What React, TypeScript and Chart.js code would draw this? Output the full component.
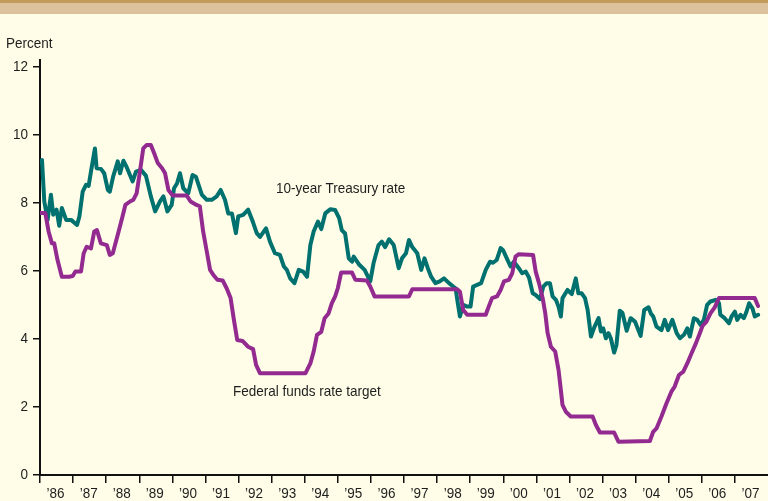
import { useEffect, useRef } from "react";
import { Chart, registerables } from "chart.js";

Chart.register(...registerables);

// 10-year Treasury rate (decimal year, percent)
const treasuryDates = [
  1986.0, 1986.06, 1986.13, 1986.23, 1986.33, 1986.4, 1986.5, 1986.58, 1986.66, 1986.79, 1986.94,
  1987.12, 1987.19, 1987.29, 1987.39, 1987.47, 1987.54, 1987.66, 1987.71, 1987.84, 1987.94,
  1988.05, 1988.11, 1988.21, 1988.35, 1988.42, 1988.52, 1988.62, 1988.8, 1988.9,
  1989.05, 1989.2, 1989.35, 1989.48, 1989.63, 1989.73, 1989.85, 1989.98,
  1990.05, 1990.14, 1990.23, 1990.33, 1990.48, 1990.61, 1990.71, 1990.89,
  1991.04, 1991.19, 1991.34, 1991.46, 1991.59, 1991.69, 1991.8, 1991.92, 1991.99,
  1992.14, 1992.29, 1992.43, 1992.55, 1992.65, 1992.83, 1992.95,
  1993.1, 1993.25, 1993.37, 1993.46, 1993.56, 1993.69, 1993.82, 1993.95,
  1994.07, 1994.17, 1994.27, 1994.4, 1994.5, 1994.62, 1994.77, 1994.92,
  1995.04, 1995.12, 1995.22, 1995.33, 1995.43, 1995.48, 1995.65, 1995.81, 1995.98,
  1996.08, 1996.23, 1996.33, 1996.43, 1996.55, 1996.69, 1996.84, 1996.94,
  1997.06, 1997.15, 1997.25, 1997.4, 1997.52, 1997.62, 1997.72, 1997.82, 1997.95,
  1998.08, 1998.21, 1998.36, 1998.49, 1998.56, 1998.61, 1998.69, 1998.79, 1998.91,
  1999.01, 1999.09, 1999.21, 1999.33, 1999.47, 1999.6, 1999.69, 1999.8, 1999.92,
  2000.0, 2000.12, 2000.22, 2000.32, 2000.47, 2000.57, 2000.68, 2000.78, 2000.89, 2000.98,
  2001.11, 2001.21, 2001.31, 2001.41, 2001.49, 2001.59, 2001.67, 2001.74, 2001.79, 2001.94,
  2002.07, 2002.19, 2002.27, 2002.37, 2002.47, 2002.55, 2002.65, 2002.75, 2002.88, 2002.95,
  2003.02, 2003.1, 2003.18, 2003.25, 2003.35, 2003.42, 2003.52, 2003.6, 2003.73, 2003.85, 2003.98,
  2004.15, 2004.26, 2004.39, 2004.46, 2004.53, 2004.63, 2004.78, 2004.88, 2004.98,
  2005.11, 2005.24, 2005.34, 2005.46, 2005.56, 2005.64, 2005.76, 2005.86, 2005.96,
  2006.06, 2006.16, 2006.26, 2006.42, 2006.52, 2006.56, 2006.69, 2006.82, 2006.9,
  2007.0, 2007.07, 2007.17, 2007.27, 2007.35, 2007.43, 2007.53, 2007.6, 2007.7,
];
const treasuryRates = [
  9.2, 9.26, 8.04, 7.5, 8.24, 7.65, 7.8, 7.33, 7.85, 7.5, 7.5,
  7.35, 7.6, 8.33, 8.53, 8.5, 8.92, 9.6, 9.02, 9.0, 8.87,
  8.38, 8.33, 8.77, 9.22, 8.87, 9.24, 9.05, 8.63, 8.92,
  8.97, 8.8, 8.19, 7.75, 8.05, 8.19, 7.75, 7.94,
  8.43, 8.57, 8.87, 8.43, 8.28, 8.82, 8.77, 8.24,
  8.09, 8.09, 8.19, 8.38, 8.09, 7.69, 7.69, 7.11, 7.6,
  7.65, 7.8, 7.45, 7.11, 7.0, 7.25, 6.86,
  6.52, 6.47, 6.13, 6.03, 5.78, 5.64, 6.03, 5.98,
  5.83, 6.76, 7.16, 7.45, 7.23, 7.69, 7.81, 7.79,
  7.55, 7.2, 7.1, 6.37, 6.27, 6.42, 6.18, 6.03, 5.69,
  6.23, 6.76, 6.86, 6.7, 6.93, 6.76, 6.08, 6.37,
  6.52, 6.91, 6.7, 6.52, 6.03, 6.37, 6.08, 5.83, 5.64,
  5.69, 5.78, 5.64, 5.54, 5.49, 5.15, 4.66, 5.0, 4.95,
  4.95, 5.54, 5.59, 5.64, 6.03, 6.27, 6.24, 6.32, 6.67,
  6.6, 6.34, 6.13, 6.27, 6.08, 5.93, 5.98, 5.8, 5.34, 5.29,
  5.17, 5.54, 5.64, 5.64, 5.25, 5.15, 4.95, 4.66, 5.2, 5.44,
  5.32, 5.78, 5.34, 5.34, 5.2, 4.85, 4.07, 4.34, 4.61, 4.22,
  4.31, 4.02, 4.17, 4.02, 3.6, 3.82, 4.83, 4.77, 4.24, 4.61, 4.51,
  4.09, 4.85, 4.93, 4.75, 4.66, 4.36, 4.26, 4.56, 4.26,
  4.56, 4.17, 4.02, 4.12, 4.31, 4.07, 4.61, 4.56, 4.41,
  4.56, 5.0, 5.1, 5.15, 5.05, 4.71, 4.61, 4.46, 4.66,
  4.8, 4.56, 4.71, 4.61, 4.8, 5.05, 4.9, 4.66, 4.71,
];

// Federal funds rate target (decimal year, percent)
const fedDates = [
  1986.0, 1986.16, 1986.26, 1986.36, 1986.43, 1986.53, 1986.66, 1986.88, 1986.99,
  1987.07, 1987.24, 1987.32, 1987.41, 1987.54, 1987.64, 1987.72, 1987.84,
  1988.02, 1988.11, 1988.2, 1988.35, 1988.48, 1988.58, 1988.72, 1988.82, 1988.92,
  1989.02, 1989.12, 1989.22, 1989.35, 1989.45, 1989.56, 1989.69, 1989.78, 1989.88,
  1990.01, 1990.43, 1990.55, 1990.73, 1990.83, 1990.93,
  1991.04, 1991.14, 1991.24, 1991.36, 1991.52, 1991.64, 1991.76, 1991.86, 1991.96,
  1992.12, 1992.29, 1992.44, 1992.53, 1992.65,
  1994.02, 1994.17, 1994.27, 1994.37, 1994.5, 1994.6, 1994.72, 1994.82, 1994.92,
  1995.0, 1995.1, 1995.43, 1995.53, 1995.88, 1995.98, 1996.11,
  1997.15, 1997.25,
  1998.61, 1998.69, 1998.79, 1998.91,
  1999.47, 1999.56, 1999.66, 1999.81, 1999.92,
  2000.02, 2000.17, 2000.27, 2000.37, 2000.47, 2000.9, 2000.98,
  2001.08, 2001.19, 2001.27, 2001.34, 2001.44, 2001.57, 2001.67, 2001.74, 2001.79, 2001.89,
  2002.04, 2002.7, 2002.8, 2002.92,
  2003.35, 2003.48,
  2004.43, 2004.53, 2004.63, 2004.78, 2004.93,
  2005.08, 2005.18, 2005.31, 2005.44, 2005.56, 2005.69, 2005.82, 2005.94,
  2006.02, 2006.14, 2006.26, 2006.39, 2006.52,
  2007.6, 2007.7,
];
const fedRates = [
  7.7, 7.7, 7.16, 6.81, 6.81, 6.32, 5.83, 5.83, 5.85,
  5.98, 5.98, 6.52, 6.71, 6.66, 7.16, 7.2, 6.81,
  6.76, 6.47, 6.52, 7.06, 7.55, 7.94, 8.04, 8.09, 8.28,
  8.92, 9.6, 9.7, 9.7, 9.46, 9.17, 9.02, 8.87, 8.38,
  8.22, 8.22, 8.04, 7.94, 7.9, 7.16,
  6.57, 6.03, 5.88, 5.74, 5.72, 5.49, 5.2, 4.56, 3.97,
  3.94, 3.77, 3.7, 3.24, 2.99,
  2.99, 3.28, 3.63, 4.12, 4.21, 4.61, 4.75, 5.05, 5.25,
  5.49, 5.95, 5.95, 5.74, 5.72, 5.54, 5.25,
  5.25, 5.46,
  5.46, 5.39, 4.85, 4.71,
  4.71, 4.95, 5.2, 5.25, 5.44,
  5.69, 5.74, 5.93, 6.42, 6.49, 6.47, 5.98,
  5.64, 5.2, 4.75, 4.17, 3.77, 3.63, 3.09, 2.5, 2.06, 1.86,
  1.72, 1.72, 1.47, 1.25,
  1.25, 0.98,
  1.0, 1.27, 1.37, 1.72, 2.1,
  2.45, 2.6, 2.94, 3.04, 3.28, 3.58, 3.87, 4.17,
  4.38, 4.51, 4.75, 4.93, 5.2,
  5.2, 4.97,
];

const xTickYears = [
  1986, 1987, 1988, 1989, 1990, 1991, 1992, 1993, 1994, 1995, 1996,
  1997, 1998, 1999, 2000, 2001, 2002, 2003, 2004, 2005, 2006, 2007,
];
const xTickLabels = [
  "\u201986", "\u201987", "\u201988", "\u201989", "\u201990", "\u201991", "\u201992", "\u201993",
  "\u201994", "\u201995", "\u201996", "\u201997", "\u201998", "\u201999", "\u201900", "\u201901",
  "\u201902", "\u201903", "\u201904", "\u201905", "\u201906", "\u201907",
];
const yTickValues = [0, 2, 4, 6, 8, 10, 12];
const yTickLabels = ["0", "2", "4", "6", "8", "10", "12"];

const FONT = "'Liberation Sans', Arial, sans-serif";
const TEXT_SCALE = 0.9;
const TEXT_COLOR = "#1e1e1e";
const TEAL = "#00716f";
const PURPLE = "#922a8f";
const CREAM = "#fffde8";

function condensedText(ctx: CanvasRenderingContext2D, text: string, x: number, y: number, align: CanvasTextAlign) {
  ctx.save();
  ctx.translate(x, y);
  ctx.scale(TEXT_SCALE, 1);
  ctx.textAlign = align;
  ctx.fillText(text, 0, 0);
  ctx.restore();
}

const decorPlugin = {
  id: "decor",
  beforeDraw(chart: any) {
    const { ctx, width } = chart;
    ctx.save();
    ctx.fillStyle = CREAM;
    ctx.fillRect(0, 0, chart.width, chart.height);
    ctx.fillStyle = "#dcc39d";
    ctx.fillRect(0, 0, width, 14);
    ctx.fillStyle = "#c49c5a";
    ctx.fillRect(0, 0, width, 3);
    ctx.restore();
  },
  afterDraw(chart: any) {
    const { ctx } = chart;
    const xs = chart.scales.x;
    const ys = chart.scales.y;
    ctx.save();
    ctx.fillStyle = TEXT_COLOR;
    ctx.font = `15px ${FONT}`;
    ctx.textBaseline = "middle";
    condensedText(ctx, "Percent", 6, 44, "left");
    condensedText(ctx, "10-year Treasury rate", xs.getPixelForValue(1993.13), ys.getPixelForValue(8.41), "left");
    condensedText(ctx, "Federal funds rate target", xs.getPixelForValue(1991.83), ys.getPixelForValue(2.44), "left");
    // x tick labels, centered within each year interval
    xTickYears.forEach((yr, i) => {
      const px = xs.getPixelForValue(yr + 0.5) - 1;
      condensedText(ctx, xTickLabels[i], px, 494, "center");
    });
    // y tick labels
    yTickValues.forEach((v, i) => {
      condensedText(ctx, yTickLabels[i], 28, ys.getPixelForValue(v), "right");
    });
    ctx.restore();
  },
};

export default function App() {
  const ref = useRef<HTMLCanvasElement | null>(null);

  useEffect(() => {
    document.body.style.margin = "0";
    document.body.style.background = CREAM;
    const canvas = ref.current;
    if (!canvas) return;
    const treasury = treasuryDates.map((d, i) => ({ x: d, y: treasuryRates[i] }));
    const fed = fedDates.map((d, i) => ({ x: d, y: fedRates[i] }));
    const chart = new Chart(canvas, {
      type: "line",
      data: {
        datasets: [
          {
            label: "Federal funds rate target",
            data: fed,
            borderColor: PURPLE,
            borderWidth: 4,
            pointRadius: 0,
            tension: 0,
            borderJoinStyle: "round",
            borderCapStyle: "round",
          },
          {
            label: "10-year Treasury rate",
            data: treasury,
            borderColor: TEAL,
            borderWidth: 4,
            pointRadius: 0,
            tension: 0,
            borderJoinStyle: "round",
            borderCapStyle: "round",
          },
        ],
      },
      options: {
        animation: false,
        responsive: false,
        devicePixelRatio: 1,
        layout: { padding: { top: 60, left: 0, right: 0, bottom: 0 } },
        plugins: {
          legend: { display: false },
          tooltip: { enabled: false },
          title: { display: false },
        },
        scales: {
          x: {
            type: "linear",
            min: 1986,
            max: 2008,
            afterBuildTicks: (scale: any) => {
              scale.ticks = xTickYears.map((v) => ({ value: v }));
            },
            afterFit: (scale: any) => {
              scale.height = 26;
            },
            grid: {
              drawOnChartArea: false,
              drawTicks: true,
              tickLength: 8,
              color: "#111",
              lineWidth: 1.5,
            },
            border: { display: true, color: "#111", width: 2 },
            ticks: {
              autoSkip: false,
              maxRotation: 0,
              padding: 1,
              color: "rgba(0,0,0,0)",
              font: { family: FONT, size: 15 },
              callback: () => "",
            },
          },
          y: {
            type: "linear",
            min: 0,
            max: 12.2,
            afterBuildTicks: (scale: any) => {
              scale.ticks = yTickValues.map((v) => ({ value: v }));
            },
            afterFit: (scale: any) => {
              scale.width = 40;
            },
            grid: {
              drawOnChartArea: false,
              drawTicks: true,
              tickLength: 7,
              color: "#111",
              lineWidth: 1.5,
            },
            border: { display: true, color: "#111", width: 2 },
            ticks: {
              padding: 5,
              color: "rgba(0,0,0,0)",
              font: { family: FONT, size: 15 },
              callback: () => "",
            },
          },
        },
      },
      plugins: [decorPlugin],
    });
    return () => chart.destroy();
  }, []);

  return (
    <div style={{ width: 768, height: 501, background: CREAM }}>
      <canvas ref={ref} width={768} height={501} style={{ display: "block" }} />
    </div>
  );
}
